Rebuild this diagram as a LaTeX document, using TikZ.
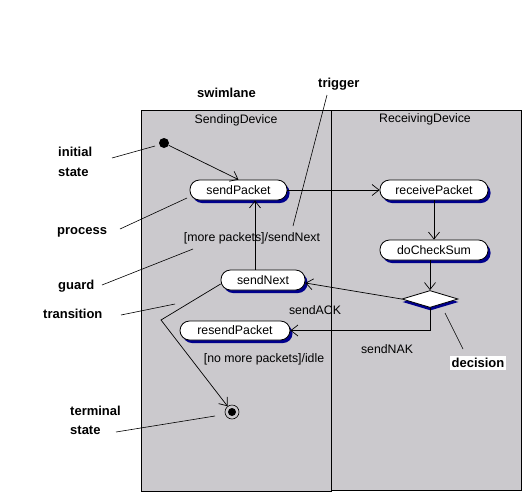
\documentclass[tikz,border=0pt]{standalone}
\usepackage{fontspec}
\setmainfont{Liberation Sans}
\usetikzlibrary{arrows.meta,shapes.geometric,shadows}
\definecolor{lanegray}{RGB}{203,201,205}
\definecolor{shadownavy}{RGB}{0,0,140}
\begin{document}
\begin{tikzpicture}[x=1pt,y=-1pt,
  lane/.style={draw=black, line width=1pt, fill=lanegray},
  proc/.style={draw=black, line width=0.8pt, fill=white, rounded corners=9.5pt,
    minimum height=20pt, inner sep=0pt, font=\fontsize{12.3}{14}\selectfont,
    drop shadow={shadow xshift=2.5pt, shadow yshift=-3pt, fill=shadownavy, opacity=1}},
  dec/.style={diamond, draw=black, line width=0.8pt, fill=white, inner sep=0pt,
    minimum width=56pt, minimum height=17pt,
    drop shadow={shadow xshift=0.5pt, shadow yshift=-3pt, fill=shadownavy, opacity=1}},
  lbl/.style={font=\fontsize{12.3}{14}\selectfont, inner sep=0pt},
  ann/.style={font=\fontsize{13}{15}\selectfont\bfseries, inner sep=0pt, anchor=base west},
  flow/.style={draw=black, line width=0.7pt, -{Straight Barb[length=7pt,width=11pt,line width=0.7pt]}},
  lead/.style={draw=black, line width=0.6pt},
]
\useasboundingbox (0,0) rectangle (530,501);
\fill[white] (0,0) rectangle (530,501);
% swimlanes
\draw[lane] (331,110) rectangle (521,490);
\draw[lane] (141,110) rectangle (331,491);
\node[lbl] (sdev) at (236,120) {SendingDevice};
\node[lbl] (rdev) at (425,119) {ReceivingDevice};
% states
\node[circle, fill=black, minimum size=10pt, inner sep=0pt] (init) at (164,143) {};
\node[proc, minimum width=97pt] (sendPacket) at (238.5,190) {sendPacket};
\node[proc, minimum width=108pt] (receivePacket) at (434,190) {receivePacket};
\node[proc, minimum width=108pt] (doCheckSum) at (434,250) {doCheckSum};
\node[dec] (decide) at (430,299) {};
\node[proc, minimum width=84pt] (sendNext) at (263,280) {sendNext};
\node[proc, minimum width=110pt, minimum height=19pt] (resendPacket) at (235,330.5) {resendPacket};
\node[circle, draw=black, line width=0.6pt, minimum size=14pt, inner sep=0pt,
  path picture={\fill[black] (path picture bounding box.center) circle (4pt);}] (term) at (232,412) {};
% transitions
\draw[flow] (init) -- (sendPacket.north);
\draw[flow] (sendPacket.east) -- (receivePacket.west);
\draw[flow] (receivePacket.south) -- (doCheckSum.north);
\draw[flow] (decide.north |- doCheckSum.south) -- (decide.north);
\draw[flow] (decide.west) -- ([yshift=-3pt]sendNext.east);
\draw[flow] (decide.south) |- (resendPacket.east);
\draw[flow] ([xshift=-8pt]sendNext.north) -- ([xshift=16.5pt]sendPacket.south);
\coordinate (bend) at (161,320);
\draw[flow] ([yshift=-4pt]sendNext.west) -- (bend) -- (term);
% transition labels
\node[lbl] (lmore) at (252,238) {[more packets]/sendNext};
\node[lbl] (lack) at (315,310) {sendACK};
\node[lbl] (lnak) at (387,349) {sendNAK};
\node[lbl] (lidle) at (264,359) {[no more packets]/idle};
% annotations
\node[ann] (aini) at (58,156) {initial};
\node[ann] (aini2) at (58,176) {state};
\node[ann] (aproc) at (57,234) {process};
\node[ann] (aguard) at (58,289) {guard};
\node[ann] (atrans) at (43,318) {transition};
\node[ann] (aterm) at (70,415) {terminal};
\node[ann] (aterm2) at (70,434) {state};
\node[ann] (aswim) at (197,97) {swimlane};
\node[ann] (atrig) at (318,87) {trigger};
\node[ann, anchor=center, fill=white, inner sep=2pt] (adec) at (478,363) {decision};
\coordinate (p1a) at (112,158); \coordinate (p1b) at (155,146);
\coordinate (p2a) at (120,229); \coordinate (p2b) at (187,198);
\coordinate (p3a) at (102,285); \coordinate (p3b) at (193,249);
\coordinate (p4a) at (121,315); \coordinate (p4b) at (175,304);
\coordinate (p5a) at (116,432); \coordinate (p5b) at (215,416);
\coordinate (p6a) at (327,95);  \coordinate (p6b) at (293,226);
\coordinate (p7a) at (445,313); \coordinate (p7b) at (463,349);
\draw[lead] (p1a) -- (p1b);
\draw[lead] (p2a) -- (p2b);
\draw[lead] (p3a) -- (p3b);
\draw[lead] (p4a) -- (p4b);
\draw[lead] (p5a) -- (p5b);
\draw[lead] (p6a) -- (p6b);
\draw[lead] (p7a) -- (p7b);
\end{tikzpicture}
\end{document}
